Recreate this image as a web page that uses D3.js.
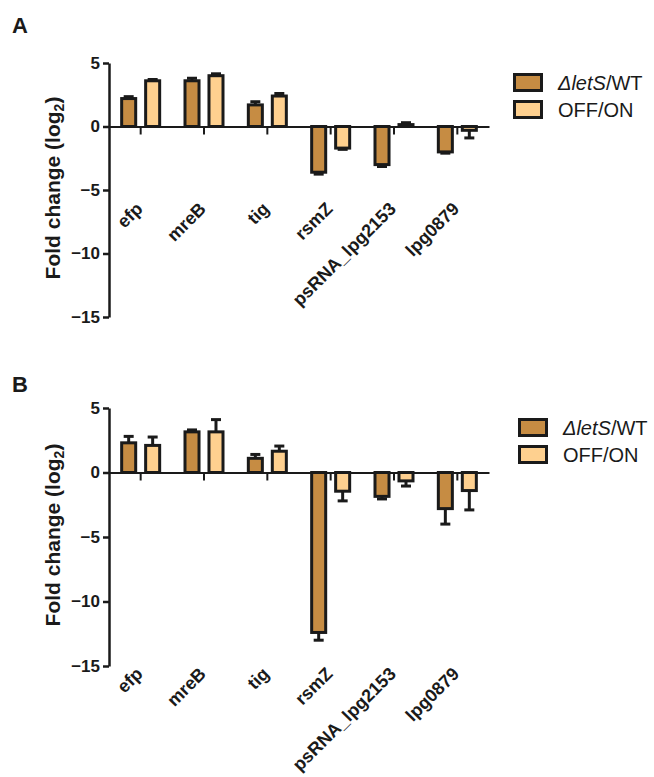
<!DOCTYPE html>
<html>
<head>
<meta charset="utf-8">
<script src="https://cdn.jsdelivr.net/npm/d3@7"></script>
<style>
  body { margin: 0; background: #fff; }
  text { font-family: "Liberation Sans", Arial, sans-serif; }
</style>
</head>
<body>
<svg id="chart" width="654" height="777"></svg>
<script>
// genes on the x axis
const genes = ["efp", "mreB", "tig", "rsmZ", "psRNA_lpg2153", "lpg0879"];
const series = ["lets", "offon"];
const yTicks = [5, 0, -5, -10, -15];

// panel A values (log2 fold change) and SEM
const letsA = [2.2, 3.6, 1.7, -3.6, -3.0, -2.0];
const letsErrA = [0.15, 0.2, 0.25, 0.15, 0.15, 0.1];
const offonA = [3.6, 4.0, 2.4, -1.7, 0.15, -0.3];
const offonErrA = [0.1, 0.15, 0.2, 0.1, 0.15, 0.6];

// panel B
const letsB = [2.3, 3.15, 1.1, -12.4, -1.85, -2.8];
const letsErrB = [0.5, 0.15, 0.3, 0.6, 0.2, 1.2];
const offonB = [2.1, 3.15, 1.65, -1.45, -0.65, -1.4];
const offonErrB = [0.65, 0.95, 0.4, 0.75, 0.4, 1.5];

const colors = {lets: "#c68c43", offon: "#fed08f"};
const ink = "#1a1a1a";

const svg = d3.select("#chart");

function panel(cfg) {
    const g = svg.append("g");
    const x = d3.scaleBand().domain(genes).range([109, 489]);
    const xs = d3.scaleBand().domain(series).range([-20.5, 20.5]).paddingInner(0.29);
    const y = d3.scaleLinear().domain([-15, 5]).range([cfg.bottom, cfg.top]);

    const rows = [];
    genes.forEach((gene, i) => {
        rows.push({gene, s: "lets", v: cfg.lets[i], e: cfg.letsErr[i]});
        rows.push({gene, s: "offon", v: cfg.offon[i], e: cfg.offonErr[i]});
    });
    const cx = d => x(d.gene) + x.bandwidth() / 2 + xs(d.s);

    // error bars (one-sided, away from zero)
    const eb = g.append("g").attr("stroke", ink).attr("stroke-width", 3);
    eb.selectAll("line.stem").data(rows).join("line")
        .attr("x1", d => cx(d) + xs.bandwidth() / 2)
        .attr("x2", d => cx(d) + xs.bandwidth() / 2)
        .attr("y1", d => y(d.v))
        .attr("y2", d => y(d.v + Math.sign(d.v) * d.e));
    eb.selectAll("line.cap").data(rows).join("line")
        .attr("x1", d => cx(d) + xs.bandwidth() / 2 - 5)
        .attr("x2", d => cx(d) + xs.bandwidth() / 2 + 5)
        .attr("y1", d => y(d.v + Math.sign(d.v) * d.e))
        .attr("y2", d => y(d.v + Math.sign(d.v) * d.e));

    // bars
    g.append("g").selectAll("rect").data(rows).join("rect")
        .attr("x", d => cx(d) + 1.5)
        .attr("width", xs.bandwidth() - 3)
        .attr("y", d => Math.min(y(d.v), y(0)))
        .attr("height", d => Math.abs(y(d.v) - y(0)))
        .attr("fill", d => colors[d.s])
        .attr("stroke", ink)
        .attr("stroke-width", 3);

    // y axis
    const ya = g.append("g").attr("transform", "translate(109,0)")
        .call(d3.axisLeft(y).tickValues(yTicks).tickSize(6).tickSizeOuter(0).tickPadding(3));
    ya.select(".domain").attr("stroke", ink).attr("stroke-width", 2.5);
    ya.selectAll(".tick line").attr("stroke", ink).attr("stroke-width", 2.5);
    ya.selectAll(".tick text").attr("font-size", 17).attr("font-weight", "bold")
        .attr("fill", ink).attr("font-family", "Liberation Sans, Arial, sans-serif");

    // zero line with category ticks
    const xa = g.append("g").attr("transform", `translate(0,${y(0)})`)
        .call(d3.axisBottom(x).tickSize(8).tickSizeOuter(0).tickFormat(""));
    xa.select(".domain").attr("stroke", ink).attr("stroke-width", 2);
    xa.selectAll(".tick line").attr("stroke", ink).attr("stroke-width", 2);

    // category labels
    g.append("g").selectAll("text").data(genes).join("text")
        .attr("transform", d => `translate(${x(d) + x.bandwidth() / 2 + 3},${cfg.labelY}) rotate(-45)`)
        .attr("text-anchor", "end")
        .attr("font-size", 18)
        .attr("font-weight", "bold")
        .attr("fill", ink)
        .text(d => d);

    // y title
    const yt = g.append("text")
        .attr("transform", `translate(60,${(cfg.top + cfg.bottom) / 2 - 2}) rotate(-90)`)
        .attr("text-anchor", "middle")
        .attr("font-size", 21)
        .attr("font-weight", "bold")
        .attr("fill", ink);
    yt.append("tspan").text("Fold change (log");
    yt.append("tspan").attr("font-size", 14).attr("dy", 4).text("2");
    yt.append("tspan").attr("dy", -4).text(")");

    // panel letter
    g.append("text").attr("x", 12).attr("y", cfg.letterY)
        .attr("font-size", 22).attr("font-weight", "bold").attr("fill", ink)
        .text(cfg.letter);

    // legend
    const lg = g.append("g").attr("transform", `translate(${cfg.legX},${cfg.legY})`);
    series.forEach((s, i) => {
        const row = lg.append("g").attr("transform", `translate(0,${i * 27})`);
        row.append("rect").attr("x", 1.5).attr("y", 1.5).attr("width", 27).attr("height", 16)
            .attr("fill", colors[s]).attr("stroke", ink).attr("stroke-width", 3);
        const t = row.append("text").attr("x", 45).attr("y", 10).attr("dy", "0.35em")
            .attr("font-size", 20).attr("fill", ink);
        if (s === "lets") {
            t.append("tspan").attr("font-style", "italic").text("Δ");
            t.append("tspan").attr("font-style", "italic").text("letS");
            t.append("tspan").text("/WT");
        } else {
            t.text("OFF/ON");
        }
    });
}

panel({letter: "A", letterY: 33, top: 63, bottom: 317, labelY: 210,
       lets: letsA, letsErr: letsErrA, offon: offonA, offonErr: offonErrA,
       legX: 513, legY: 73});
panel({letter: "B", letterY: 392, top: 408, bottom: 666, labelY: 675,
       lets: letsB, letsErr: letsErrB, offon: offonB, offonErr: offonErrB,
       legX: 518, legY: 418});
</script>
</body>
</html>
